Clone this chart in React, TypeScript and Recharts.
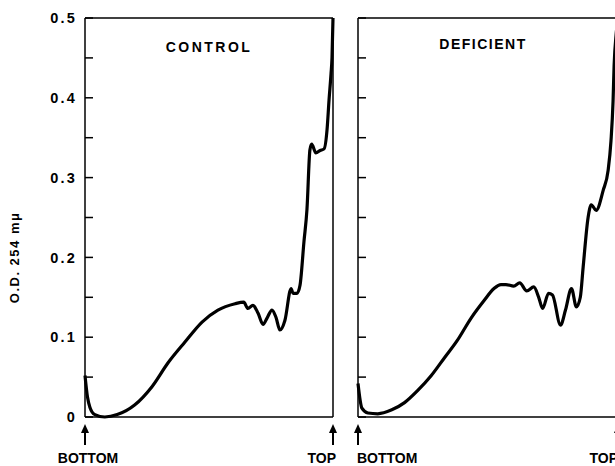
import React from 'react';
import { LineChart, Line, XAxis, YAxis, ReferenceLine } from 'recharts';

// Fraction of the gradient (0 = bottom, 100 = top) and optical density
const controlPosition = [0, 1, 2, 4, 8, 13, 20, 27, 33.5, 40.3, 47.2, 53.6, 60.5, 64, 65.7, 67.7, 69.8, 71.8, 73.4, 75.4, 77, 78.6, 80.6, 83.1, 83.9, 85.5, 86.7, 88.3, 89.5, 90.7, 91.4, 93.1, 94.8, 96.4, 97.6, 98.4, 99.2, 99.6, 100];
const controlOD = [0.052, 0.025, 0.012, 0.003, 0.0, 0.003, 0.015, 0.038, 0.068, 0.094, 0.119, 0.134, 0.142, 0.144, 0.136, 0.14, 0.13, 0.116, 0.124, 0.134, 0.125, 0.109, 0.121, 0.161, 0.155, 0.155, 0.165, 0.22, 0.26, 0.335, 0.342, 0.331, 0.334, 0.336, 0.36, 0.397, 0.43, 0.45, 0.5];

const deficientPosition = [0, 1.5, 3.8, 7.6, 13, 17.9, 22.9, 28.2, 33.2, 38.2, 43.5, 48.5, 52.3, 55, 56.9, 59.9, 62.2, 64.9, 67.6, 69.5, 71, 73.3, 74.8, 77.9, 79.8, 82.1, 84, 85.5, 86.6, 88.5, 89.7, 91.6, 94.3, 96.2, 97.3, 98.1, 98.5, 99.3, 100];
const deficientOD = [0.042, 0.011, 0.005, 0.004, 0.009, 0.018, 0.033, 0.052, 0.074, 0.096, 0.124, 0.146, 0.161, 0.166, 0.166, 0.164, 0.168, 0.158, 0.163, 0.15, 0.136, 0.155, 0.153, 0.115, 0.134, 0.161, 0.138, 0.15, 0.188, 0.25, 0.266, 0.259, 0.284, 0.309, 0.346, 0.396, 0.44, 0.48, 0.5];

const yTicks = [0, 0.05, 0.1, 0.15, 0.2, 0.25, 0.3, 0.35, 0.4, 0.45, 0.5];
const yTickLabels = ['0', '', '0.1', '', '0.2', '', '0.3', '', '0.4', '', '0.5'];
const endTicks = [0, 100];
const endLabels = ['BOTTOM', 'TOP'];
const panelTitles = ['CONTROL', 'DEFICIENT'];
const yAxisTitle = 'O.D. 254 m\u03BC';

const FONT = '"Liberation Sans", Arial, Helvetica, sans-serif';

const controlData = controlPosition.map((x, i) => ({ x, od: controlOD[i] }));
const deficientData = deficientPosition.map((x, i) => ({ x, od: deficientOD[i] }));

const labelFor = (v: number) => {
  let best = 0;
  yTicks.forEach((t, i) => {
    if (Math.abs(t - v) < Math.abs(yTicks[best] - v)) best = i;
  });
  return yTickLabels[best];
};

const EndTick = (props: any) => {
  const { x, y, payload, anchors } = props;
  const idx = payload.value === 0 ? 0 : 1;
  const a = anchors[idx];
  return (
    <g>
      <line x1={x} x2={x} y1={y + 13} y2={y + 28} stroke="#000" strokeWidth={2} />
      <path d={`M${x},${y + 7} L${x - 4},${y + 16} L${x + 4},${y + 16} Z`} fill="#000" />
      <text x={x + a.dx} y={y + 46} textAnchor={a.anchor} fontFamily={FONT} fontWeight="bold" fontSize={14} fill="#000">
        {endLabels[idx]}
      </text>
    </g>
  );
};

const YTitle = (props: any) => {
  const vb = props.viewBox || { x: 0, y: 0, width: 0, height: 0 };
  const cx = vb.x + 15;
  const cy = vb.y + vb.height * 0.6;
  return (
    <text x={cx} y={cy} transform={`rotate(-90, ${cx}, ${cy})`} textAnchor="middle" dominantBaseline="central"
      fontFamily={FONT} fontWeight="bold" fontSize={13} letterSpacing={1.5} fill="#000">
      {yAxisTitle}
    </text>
  );
};

type PanelProps = {
  data: { x: number; od: number }[];
  title: string;
  width: number;
  leftW: number;
  rightW: number;
  showLabels: boolean;
  anchors: { anchor: string; dx: number }[];
  titleOffset: number;
  titleDx: number;
  titleSpacing: number;
};

const Panel = ({ data, title, width, leftW, rightW, showLabels, anchors, titleOffset, titleDx, titleSpacing }: PanelProps) => (
  <LineChart width={width} height={466} data={data} margin={{ top: 0, right: 0, bottom: 0, left: 0 }}>
    <XAxis xAxisId="t" orientation="top" type="number" dataKey="x" domain={[0, 100]} height={18}
      tick={false} tickLine={false} axisLine={{ stroke: '#000', strokeWidth: 1.5 }} />
    <XAxis xAxisId="b" orientation="bottom" type="number" dataKey="x" domain={[0, 100]} height={49}
      ticks={endTicks} interval={0} tickSize={0} tickMargin={0} tickLine={false}
      axisLine={{ stroke: '#000', strokeWidth: 1.5 }} tick={<EndTick anchors={anchors} />} />
    <YAxis yAxisId="l" orientation="left" type="number" domain={[0, 0.5]} ticks={yTicks} interval={0}
      width={leftW} tickSize={-8} tickMargin={16}
      axisLine={{ stroke: '#000', strokeWidth: 1.5 }} tickLine={{ stroke: '#000', strokeWidth: 1.5 }}
      tickFormatter={(v: number) => (showLabels ? labelFor(v) : '')}
      tick={{ fill: '#000', fontFamily: FONT, fontWeight: 'bold', fontSize: 14.5, letterSpacing: 2.2 }}
      label={showLabels ? <YTitle /> : undefined} />
    <YAxis yAxisId="r" orientation="right" type="number" domain={[0, 0.5]} ticks={yTicks} interval={0}
      width={rightW} tickSize={-8} tickMargin={0}
      axisLine={{ stroke: '#000', strokeWidth: 1.5 }} tickLine={{ stroke: '#000', strokeWidth: 1.5 }}
      tickFormatter={() => ''} />
    <ReferenceLine xAxisId="b" yAxisId="l" y={0.5} stroke="none"
      label={{ value: title, position: 'bottom', offset: titleOffset, dx: titleDx, fill: '#000', fontFamily: FONT, fontWeight: 'bold', fontSize: 14, letterSpacing: titleSpacing }} />
    <Line xAxisId="b" yAxisId="l" type="monotone" dataKey="od" stroke="#000" strokeWidth={3.2}
      dot={false} activeDot={false} isAnimationActive={false} />
  </LineChart>
);

export default function App() {
  return (
    <div style={{ position: 'absolute', left: 0, top: 0, width: 615, height: 466, overflow: 'hidden', background: '#fff' }}>
      <div style={{ position: 'absolute', left: 0, top: 0 }}>
        <Panel data={controlData} title={panelTitles[0]} width={345} leftW={85} rightW={12} showLabels
          anchors={[{ anchor: 'middle', dx: 3 }, { anchor: 'end', dx: 3 }]} titleOffset={24} titleDx={0} titleSpacing={2.5} />
      </div>
      <div style={{ position: 'absolute', left: 345, top: 0 }}>
        <Panel data={deficientData} title={panelTitles[1]} width={290} leftW={13} rightW={17} showLabels={false}
          anchors={[{ anchor: 'start', dx: -1 }, { anchor: 'end', dx: 0 }]} titleOffset={21} titleDx={-5} titleSpacing={1.5} />
      </div>
    </div>
  );
}
